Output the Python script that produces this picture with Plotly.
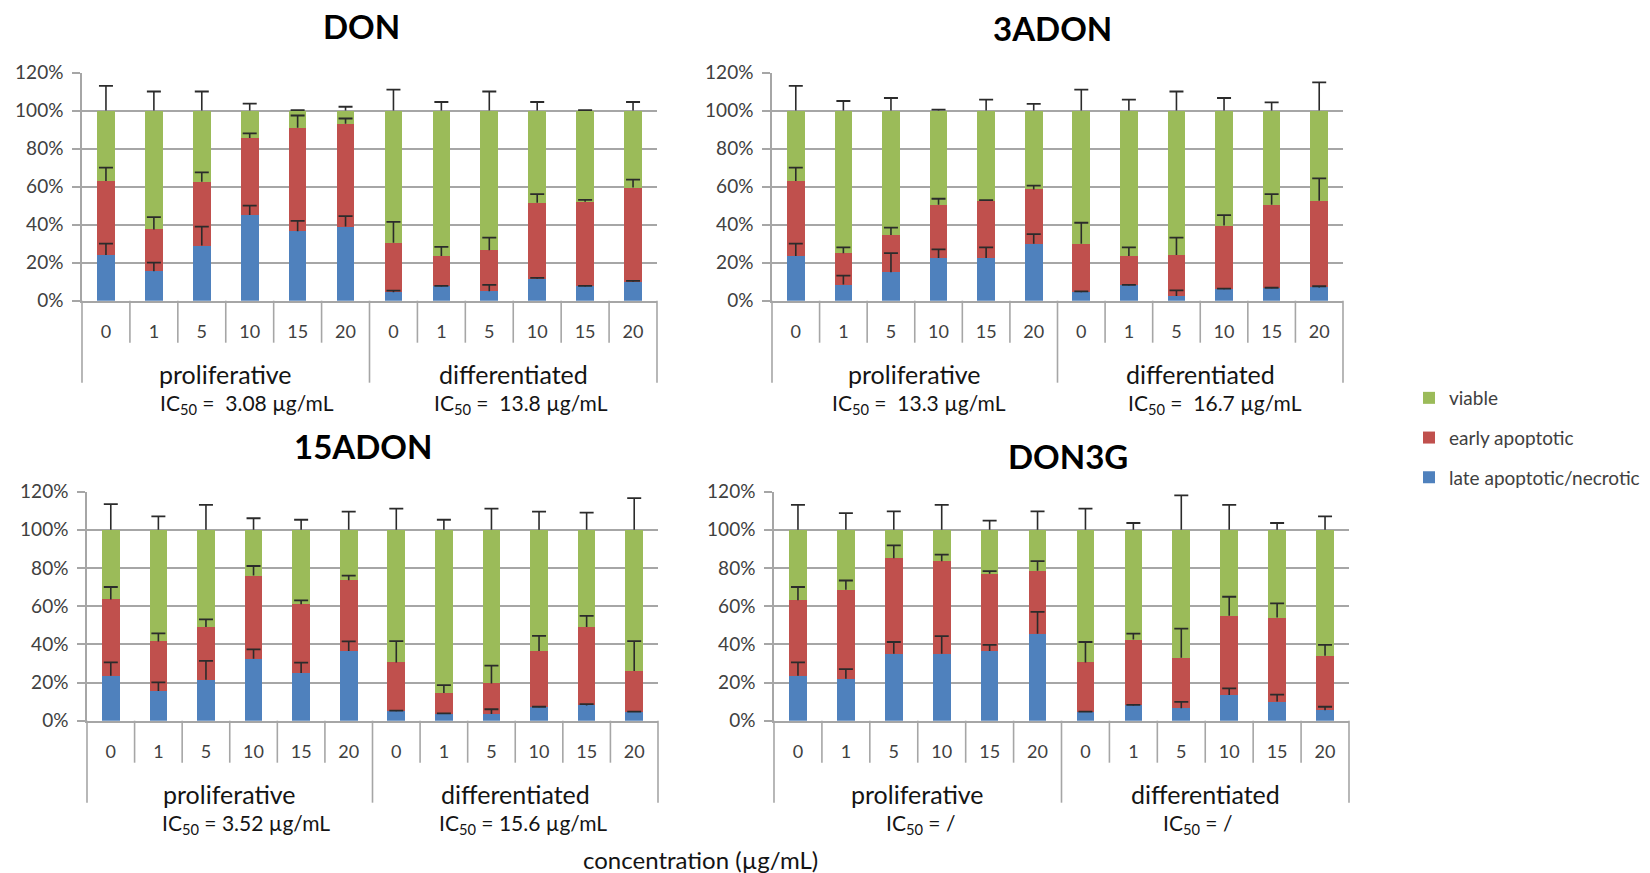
import plotly.graph_objects as go

# ---- data (percent of cells) ----
concentrations = ["0", "1", "5", "10", "15", "20"]
states = ["proliferative", "differentiated"]
toxins = ["DON", "3ADON", "15ADON", "DON3G"]

ic50_labels = {
    "DON": ["IC<sub>50</sub> =  3.08 µg/mL", "IC<sub>50</sub> =  13.8 µg/mL"],
    "3ADON": ["IC<sub>50</sub> =  13.3 µg/mL", "IC<sub>50</sub> =  16.7 µg/mL"],
    "15ADON": ["IC<sub>50</sub> = 3.52 µg/mL", "IC<sub>50</sub> = 15.6 µg/mL"],
    "DON3G": ["IC<sub>50</sub> = /", "IC<sub>50</sub> = /"],
}

# late apoptotic / necrotic
late = {
    "DON":    [24, 15.5, 29, 45, 36.5, 39, 4.5, 7.5, 5, 11.5, 7.5, 10],
    "3ADON":  [23.5, 8.5, 15, 22.5, 22.5, 30, 4.5, 8, 2.5, 6, 6.5, 7],
    "15ADON": [23.5, 15.5, 21.5, 32.5, 25, 36.5, 5, 3.5, 3.5, 7, 8, 4.5],
    "DON3G":  [23.5, 22, 35, 35, 36.5, 45.5, 4.5, 8, 6.5, 13.5, 10, 5.5],
}
late_err = {
    "DON":    [6, 4.5, 10, 5, 5.5, 5.5, 0.8, 0.3, 3.3, 0.5, 0.3, 0.4],
    "3ADON":  [6.5, 4.7, 10, 4.5, 5.5, 5, 0.4, 0.3, 2.9, 0.3, 0.3, 0.6],
    "15ADON": [7, 4.6, 9.8, 4.8, 5.4, 5, 0.3, 0.3, 2.5, 0.3, 0.7, 0.3],
    "DON3G":  [7, 5, 6.2, 9.3, 3.2, 11.5, 0.3, 0.3, 3.4, 3.4, 3.6, 1.8],
}
# early apoptotic
early = {
    "DON":    [39, 22, 33.5, 40.5, 54.5, 54, 26, 16, 21.5, 40, 44.5, 49.5],
    "3ADON":  [39.5, 16.5, 19.5, 28, 30, 28.5, 25.5, 15.5, 21.5, 33.5, 44, 45.5],
    "15ADON": [40, 26, 27.5, 43.5, 36, 37, 25.5, 11, 16, 29.5, 41, 21.5],
    "DON3G":  [39.5, 46.5, 50, 48.5, 40.5, 33, 26, 34.5, 26.5, 41.5, 44, 28.5],
}
early_err = {
    "DON":    [7, 6.5, 5, 2.5, 6.4, 2.8, 11, 4.8, 6.7, 4.5, 1, 4.2],
    "3ADON":  [7, 3, 3.9, 3.1, 0.4, 2, 11, 4.5, 9.2, 5.5, 5.5, 11.8],
    "15ADON": [6.5, 4.2, 4, 5, 2, 2.5, 11.2, 4.1, 9.3, 7.9, 5.9, 15.7],
    "DON3G":  [7, 4.9, 6.8, 3.5, 1.3, 5, 10.7, 3.1, 15.2, 9.9, 7.4, 5.7],
}
# viable
viable = {
    "DON":    [37, 62.5, 37.5, 14.5, 9, 7, 69.5, 76.5, 73.5, 48.5, 48, 40.5],
    "3ADON":  [37, 75, 65.5, 49.5, 47.5, 41.5, 70, 76.5, 76, 60.5, 49.5, 47.5],
    "15ADON": [36.5, 58.5, 51, 24, 39, 26.5, 69.5, 85.5, 80.5, 63.5, 51, 74],
    "DON3G":  [37, 31.5, 15, 16.5, 23, 21.5, 69.5, 57.5, 67, 45, 46, 66],
}
viable_err = {
    "DON":    [13, 10, 10, 3.6, 0.2, 2, 11, 4.5, 10, 4.5, 0.2, 4.5],
    "3ADON":  [13, 5, 6.6, 0.5, 5.7, 3.5, 11, 5.7, 10, 6.6, 4.3, 14.8],
    "15ADON": [13.4, 7, 13, 6, 5.2, 9.5, 11, 5.2, 11, 9.5, 8.9, 16.5],
    "DON3G":  [13, 8.7, 9.6, 13, 4.7, 9.6, 11, 3.5, 18, 13, 3.5, 7],
}

# ---- styling ----
W, H = 1650, 873
FONT = "Lato, 'Open Sans', sans-serif"
GREEN, RED, BLUE = "#9BBB59", "#C0504D", "#4F81BD"
GRID = "#A6A6A6"
ERR = "#2b2b2b"
TXT = "#141414"

# subplot boxes in pixels: left, right, top (120%), bottom (0%)
boxes = {
    "DON":    (82, 657, 72.5, 300.7),
    "3ADON":  (772, 1343, 72.5, 300.7),
    "15ADON": (87, 658, 491.5, 720.7),
    "DON3G":  (774, 1349, 491.5, 720.7),
}
title_pos = {"DON": (361, 26), "3ADON": (1052, 28), "15ADON": (363, 446), "DON3G": (1068, 456)}
ic_xfrac = {"DON": (0.287, 0.763), "3ADON": (0.257, 0.776),
            "15ADON": (0.278, 0.764), "DON3G": (0.254, 0.737)}

fig = go.Figure()
layout_axes = {}
shapes = []
annotations = []

for i, tox in enumerate(toxins):
    n = i + 1
    xa = "x" if n == 1 else f"x{n}"
    ya = "y" if n == 1 else f"y{n}"
    cats = [f"{s} {c}" for s in states for c in concentrations]
    ncat = len(cats)

    series = [
        ("late apoptotic/necrotic", late[tox], BLUE, 3),
        ("early apoptotic", early[tox], RED, 2),
        ("viable", viable[tox], GREEN, 1),
    ]
    for name, vals, col, rank in series:
        fig.add_trace(go.Bar(
            x=cats, y=vals, name=name, xaxis=xa, yaxis=ya,
            marker=dict(color=col, line=dict(width=0)),
            legendgroup=name, legendrank=rank, showlegend=(i == 0),
        ))

    # upper-only error bars on top of every stacked segment:
    # a vertical stem from the segment top plus a horizontal cap
    tops_late = late[tox]
    tops_early = [a + b for a, b in zip(late[tox], early[tox])]
    tops_viable = [a + b + c for a, b, c in zip(late[tox], early[tox], viable[tox])]
    bases = tops_late + tops_early + tops_viable
    errs = late_err[tox] + early_err[tox] + viable_err[tox]
    ends = [b + e for b, e in zip(bases, errs)]
    xs = cats * 3
    stem_x, stem_y = [], []
    for cx, b, e in zip(xs, bases, ends):
        stem_x += [cx, cx, None]
        stem_y += [b, e, None]
    fig.add_trace(go.Scatter(
        x=stem_x, y=stem_y, xaxis=xa, yaxis=ya, mode="lines",
        line=dict(color=ERR, width=1.6), connectgaps=False,
        showlegend=False, hoverinfo="skip",
    ))
    fig.add_trace(go.Scatter(
        x=xs, y=ends, xaxis=xa, yaxis=ya, mode="markers",
        marker=dict(symbol="line-ew", size=10, color=ERR,
                    line=dict(color=ERR, width=1.8)),
        showlegend=False, hoverinfo="skip",
    ))

    left, right, top, bottom = boxes[tox]
    dom_x = [left / W, right / W]
    dom_y = [1 - bottom / H, 1 - top / H]
    hpx = bottom - top
    axkey_x = "xaxis" if n == 1 else f"xaxis{n}"
    axkey_y = "yaxis" if n == 1 else f"yaxis{n}"
    layout_axes[axkey_x] = dict(
        domain=dom_x, anchor=ya, type="category",
        categoryorder="array", categoryarray=cats,
        range=[-0.5, ncat - 0.5], autorange=False,
        tickvals=cats, ticktext=concentrations * 2,
        showline=True, linecolor=GRID, linewidth=1.6,
        showgrid=False, ticks="", ticklabelstandoff=14,
        tickfont=dict(family=FONT, size=18, color="#404040"),
    )
    layout_axes[axkey_y] = dict(
        domain=dom_y, anchor=xa, range=[0, 120], dtick=20, ticksuffix="%",
        showline=True, linecolor=GRID, linewidth=1.6,
        showgrid=True, gridcolor=GRID, gridwidth=1.6,
        ticks="outside", ticklen=8, tickcolor=GRID, tickwidth=1.6,
        ticklabelstandoff=5,
        tickfont=dict(family=FONT, size=19, color="#404040"), zeroline=False,
    )

    # category dividers below the axis
    xd = "x domain" if n == 1 else f"x{n} domain"
    yd = "y domain" if n == 1 else f"y{n} domain"
    for k in range(ncat + 1):
        long_line = k in (0, ncat // 2, ncat)
        length = 82 if long_line else 42
        shapes.append(dict(type="line", xref=xd, yref=yd, x0=k / ncat, x1=k / ncat,
                           y0=0, y1=-length / hpx,
                           line=dict(color=GRID, width=1.6)))

    # group names and IC50 lines
    for g, st in enumerate(states):
        annotations.append(dict(xref=xd, yref=yd, x=0.25 + 0.5 * g, y=0, yshift=-73,
                                text=st, showarrow=False, xanchor="center", yanchor="middle",
                                font=dict(family=FONT, size=25, color=TXT)))
        annotations.append(dict(xref=xd, yref=yd, x=ic_xfrac[tox][g], y=0, yshift=-103,
                                text=ic50_labels[tox][g], showarrow=False,
                                xanchor="center", yanchor="middle",
                                font=dict(family=FONT, size=21, color=TXT)))

    tx, ty = title_pos[tox]
    annotations.append(dict(xref="paper", yref="paper", x=tx / W, y=1 - ty / H,
                            text=f"<b>{tox}</b>", showarrow=False,
                            xanchor="center", yanchor="middle",
                            font=dict(family=FONT, size=33, color="#000000")))

annotations.append(dict(xref="paper", yref="paper", x=700 / W, y=1 - 859 / H,
                        text="concentration (µg/mL)", showarrow=False,
                        xanchor="center", yanchor="middle",
                        font=dict(family=FONT, size=24, color=TXT)))

fig.update_layout(
    width=W, height=H,
    margin=dict(l=0, r=0, t=0, b=0, autoexpand=False),
    paper_bgcolor="white", plot_bgcolor="white",
    barmode="stack", bargap=0.63,
    shapes=shapes, annotations=annotations,
    legend=dict(x=1409 / W, y=1 - 379 / H, xanchor="left", yanchor="top",
                traceorder="grouped", tracegroupgap=12,
                font=dict(family=FONT, size=19, color="#404040"),
                bgcolor="rgba(0,0,0,0)"),
    showlegend=True,
    **layout_axes,
)

fig.write_html("out.html")
